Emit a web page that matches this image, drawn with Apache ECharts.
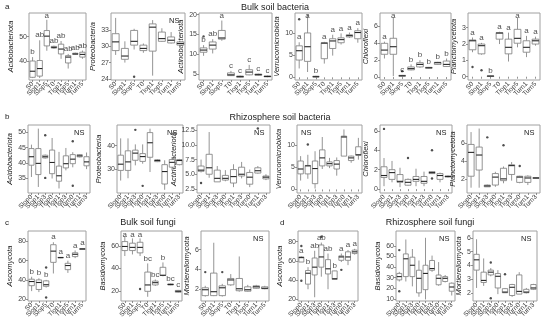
<!DOCTYPE html>
<html><head><meta charset="utf-8">
<script src="https://cdn.jsdelivr.net/npm/echarts@6/dist/echarts.min.js"></script>
<style>html,body{margin:0;padding:0;background:#fff}#c{width:550px;height:325px}</style>
</head><body><div id="c"></div>
<script>
// ---------- categories ----------
const catsBulk = ['S0','Slop1','Slop5','T0','Tlop1','Tlop5','Turn1','Turn5'];
const catsRhizo = ['Slop0','Slop1','Slop3','Tlop0','Tlop1','Tlop3','Turn0','Turn1','Turn3'];

// ---------- a: bulk soil bacteria  [min, Q1, median, Q3, max] ----------
const aAcido = [[33.0,33.3,35.8,40.0,41.6],[33.0,33.8,36.9,40.2,48.5],[44.2,46.2,50.2,52.5,56.9],[45.0,45.3,45.6,46.0,46.3],[40.9,42.9,44.9,46.9,48.2],[36.9,39.2,41.6,42.2,42.9],[42.5,42.7,42.9,43.2,43.4],[40.9,41.6,42.7,43.6,44.3]];
const aAcidoOut = [];
const aAcidoLet = ['b','ab','a','ab','ab','ab','ab','ab'];
const aAcidoTicks = [40,50];

const aProteo = [[28.4,29.2,30.8,32.3,35.2],[27.0,27.6,28.2,29.6,30.9],[29.4,30.2,30.9,32.9,33.2],[28.8,29.2,29.6,30.2,30.5],[24.6,29.1,33.5,34.1,34.8],[30.8,30.9,31.4,32.6,33.3],[30.5,30.6,31.1,31.7,32.6],[30.1,30.2,30.5,30.8,30.9]];
const aProteoOut = [[2,24.4]];
const aProteoTicks = [24,27,30,33];

const aActino = [[9.6,10.5,11.05,11.6,12.3],[10.2,11.3,12.3,13.1,13.8],[13.4,13.8,14.1,16.0,18.5],[4.5,4.6,4.8,5.3,5.8],[4.1,4.2,4.35,4.5,4.6],[4.7,4.8,5.5,6.1,7.3],[4.6,4.7,4.85,5.0,5.1],[4.2,4.3,4.4,4.5,4.6]];
const aActinoOut = [[0,14.5]];
const aActinoLet = ['b','ab','a','c','c','c','c','c'];
const aActinoTicks = [5,10,15,20];

const aVerru = [[2.0,3.9,6.0,7.1,7.9],[1.2,3.6,6.9,10.0,14.2],[0,0.05,0.15,0.25,0.35],[3.1,4.2,7.7,7.8,8.0],[4.9,6.5,8.2,8.7,9.6],[7.4,7.8,8.5,8.9,9.9],[8.9,9.1,9.4,9.6,10.1],[7.8,8.7,10.1,10.5,11.1]];
const aVerruOut = [[0,13.1]];
const aVerruLet = ['a','a','b','a','a','a','a','a'];
const aVerruTicks = [0,5,10];

const aChloro = [[2.2,2.7,3.2,4.0,4.2],[0.1,2.7,3.6,4.6,7.1],[0.05,0.1,0.15,0.2,0.25],[0.8,0.85,1.0,1.2,1.5],[1.1,1.2,1.5,1.7,2.0],[1.0,1.05,1.1,1.15,1.2],[1.45,1.5,1.7,1.75,1.8],[1.2,1.25,1.5,1.9,2.2]];
const aChloroOut = [[2,0.7]];
const aChloroLet = ['a','a','c','b','b','b','b','b'];
const aChloroTicks = [0,2,4,6];

const aPlancto = [[1.5,1.65,2.2,2.25,2.4],[1.35,1.4,1.9,2.0,2.07],[0,0.02,0.04,0.05,0.06],[2.0,2.3,2.67,2.7,2.75],[0.93,1.4,1.8,2.3,2.7],[1.8,2.05,2.35,2.9,3.6],[1.2,1.5,1.8,2.2,2.5],[1.9,2.0,2.2,2.3,2.45]];
const aPlanctoOut = [[0,0.6],[1,0.4]];
const aPlanctoLet = ['a','a','b','a','a','a','a','a'];
const aPlanctoTicks = [0,1,2,3];

// ---------- b: rhizosphere soil bacteria ----------
const bAcido = [[35.3,39.2,42.0,44.7,46.0],[32.0,36.1,39.8,44.7,51.3],[41.4,41.6,42.0,42.5,42.7],[34.8,36.4,40.1,44.2,48.2],[31.5,33.9,35.7,38.9,43.6],[37.5,38.3,39.7,42.3,44.9],[38.5,39.7,41.2,42.7,43.5],[41.8,41.95,42.3,42.7,42.9],[37.9,39.0,40.3,42.0,43.4]];
const bAcidoOut = [[2,49.1],[2,35.0],[6,47.1],[6,32.4]];
const bAcidoTicks = [35,40,45,50];

const bProteo = [[24.9,29.3,32.0,35.9,43.2],[25.9,29.3,33.0,37.8,43.2],[31.5,33.7,36.8,38.1,40.6],[32.2,33.2,35.3,36.6,40.6],[28.6,35.0,41.3,45.7,47.4],[32.9,33.1,33.6,33.9,34.2],[20.9,23.4,28.8,31.8,33.7],[29.3,30.7,32.8,34.0,35.1],[31.5,31.8,33.6,34.0,34.3]];
const bProteoOut = [[2,46.9],[3,22.6]];
const bProteoTicks = [30,40];

const bActino = [[5.3,5.5,5.7,6.4,7.5],[4.4,5.0,6.1,8.4,12.2],[3.7,3.7,4.3,5.7,6.4],[3.8,4.0,4.3,4.8,5.7],[2.8,3.5,4.6,5.8,6.7],[4.3,4.7,5.0,6.2,7.1],[2.8,3.3,4.5,5.3,5.8],[5.1,5.2,5.6,6.1,6.4],[4.0,4.2,4.5,4.7,5.0]];
const bActinoOut = [[0,3.5],[7,12.8]];
const bActinoTicks = [2.5,5,7.5,10,12.5];

const bVerru = [[2.0,3.5,4.6,6.4,7.5],[2.4,3.5,5.3,5.4,7.8],[0.2,1.3,4.7,6.4,8.6],[4.6,5.3,7.1,8.9,11.8],[4.8,5.3,5.8,6.2,7.1],[3.1,4.6,5.7,6.5,7.2],[7.5,7.5,11.8,12.0,13.5],[6.0,6.5,7.1,7.5,7.6],[6.7,7.7,7.8,9.6,11.6]];
const bVerruOut = [[1,10.1]];
const bVerruTicks = [0,5,10];

const bChloro = [[0.3,1.2,1.4,2.3,3.2],[0.7,1.0,1.7,2.0,2.9],[0.2,0.7,0.8,1.5,2.2],[0.35,0.4,0.7,1.0,1.1],[0.3,0.8,1.0,1.3,2.1],[0.3,0.6,0.8,1.3,1.8],[1.55,1.6,1.7,1.8,1.85],[0.7,1.0,1.4,1.6,1.7],[1.2,1.25,1.3,1.35,1.4]];
const bChloroOut = [[0,6.2],[3,3.2],[6,4.0],[6,1.1]];
const bChloroTicks = [0,2,4,6];

const bPlancto = [[1.0,2.3,5.0,5.9,7.3],[1.0,3.0,4.7,5.6,7.7],[1.1,1.1,1.2,1.3,1.35],[1.1,1.3,2.2,2.6,2.8],[1.5,1.8,2.0,3.2,3.4],[1.8,2.5,3.5,3.6,3.9],[1.5,1.6,2.2,2.3,2.35],[1.3,1.6,2.1,2.3,2.4],[2.0,2.05,2.1,2.15,2.2]];
const bPlanctoOut = [[2,6.7],[4,5.8],[6,3.45]];
const bPlanctoTicks = [2,4,6];

// ---------- c: bulk soil fungi ----------
const cAsco = [[28.3,34.0,38.3,40.7,43.3],[27.3,30.0,37.3,40.0,41.7],[32.0,33.3,35.0,39.0,40.0],[46.7,58.3,70.0,76.7,79.3],[62.7,63.0,63.3,63.5,63.7],[47.3,50.7,55.0,57.3,60.0],[62.7,64.3,66.7,68.3,70.7],[71.5,71.7,72.3,72.7,73.0]];
const cAscoOut = [[2,53.0],[2,21.7]];
const cAscoLet = ['b','b','b','a','a','a','a','a'];
const cAscoTicks = [20,40,60,80];

const cBasidio = [[51.0,55.8,59.4,63.7,68.7],[52.4,55.8,58.6,62.3,66.5],[51.0,53.8,58.6,63.1,66.5],[15.2,20.0,25.6,36.9,44.5],[24.8,25.6,27.6,29.0,30.4],[33.2,34.0,34.1,41.1,45.4],[25.4,25.6,26.0,26.5,26.8],[18.8,19.2,20.0,20.8,21.2]];
const cBasidioOut = [[2,22.0]];
const cBasidioLet = ['a','a','a','bc','bc','b','bc','c'];
const cBasidioTicks = [20,40,60];

const cMort = [[1.2,1.3,1.9,2.1,2.3],[1.25,1.3,1.7,3.6,6.7],[1.2,1.3,2.1,2.3,2.5],[2.3,2.4,2.9,3.05,3.5],[1.7,1.8,2.0,3.05,5.3],[1.7,1.75,1.9,2.2,2.4],[2.0,2.05,2.2,2.3,2.4],[1.95,2.0,2.05,2.2,2.3]];
const cMortOut = [[0,3.7],[2,3.7]];
const cMortTicks = [2,4,6];

// ---------- d: rhizosphere soil fungi ----------
const dAsco = [[58.8,58.8,63.4,64.1,64.8],[30.6,35.9,47.2,50.0,53.5],[22.3,45.4,53.5,63.0,70.5],[43.6,53.5,64.1,76.5,79.0],[30.6,46.5,51.8,61.3,67.6],[40.5,40.8,41.5,49.6,49.8],[58.8,60.6,64.1,65.2,67.6],[55.6,60.6,64.1,69.4,71.2],[66.5,67.6,69.4,71.2,72.5]];
const dAscoOut = [[0,75.4],[0,39.4],[3,85.0],[6,50.7]];
const dAscoLet = ['a','b','ab','ab','ab','b','a','a','a'];
const dAscoTicks = [20,40,60,80];

const dBasidio = [[26.4,27.9,31.0,34.0,35.5],[26.4,31.0,47.8,52.4,66.0],[21.8,31.0,41.7,49.3,57.0],[12.0,15.7,29.4,37.0,46.2],[9.5,18.7,34.0,41.7,67.6],[35.5,37.0,38.6,46.2,50.8],[22.4,23.3,29.4,32.5,44.7],[25.5,26.4,29.4,31.0,32.5],[13.2,17.2,21.2,24.8,25.5]];
const dBasidioOut = [[0,56.0],[0,17.2]];
const dBasidioTicks = [10,20,30,40,50,60];

const dMort = [[2.35,3.65,4.4,4.8,5.9],[2.5,2.75,2.9,3.5,4.5],[3.2,3.3,3.5,3.65,3.8],[1.9,2.35,3.2,3.4,3.65],[2.0,2.0,2.05,2.3,2.35],[1.7,1.8,2.4,2.6,2.65],[1.9,1.9,2.1,3.3,3.5],[1.95,2.0,2.05,2.25,2.35],[2.2,2.25,2.35,2.6,2.65]];
const dMortOut = [[2,4.2],[2,1.6],[4,3.35]];
const dMortTicks = [2,3,4,5,6];

// ---------- layout ----------
const FONT = 'Liberation Sans, Arial, sans-serif';
const panels = [
  {l:29,t:13,r:86,b:80, cats:catsBulk, box:aAcido, out:aAcidoOut, let:aAcidoLet, name:'Acidobacteriota', min:32.2, max:59.7, ticks:aAcidoTicks, gap:12},
  {l:111,t:13,r:185,b:80, cats:catsBulk, box:aProteo, out:aProteoOut, name:'Proteobacteria', min:23.8, max:36.1, ticks:aProteoTicks, gap:12, ns:'r'},
  {l:199,t:13,r:272,b:80, cats:catsBulk, box:aActino, out:aActinoOut, let:aActinoLet, name:'Actinobacteriota', min:3.5, max:20.4, ticks:aActinoTicks, gap:12},
  {l:295,t:13,r:362,b:80, cats:catsBulk, box:aVerru, out:aVerruOut, let:aVerruLet, name:'Verrucomicrobiota', min:-0.6, max:14.5, ticks:aVerruTicks, gap:12},
  {l:380,t:13,r:451,b:80, cats:catsBulk, box:aChloro, out:aChloroOut, let:aChloroLet, name:'Chloroflexi', min:-0.35, max:7.6, ticks:aChloroTicks, gap:9},
  {l:468,t:13,r:540,b:80, cats:catsBulk, box:aPlancto, out:aPlanctoOut, let:aPlanctoLet, name:'Planctomycetota', min:-0.2, max:3.9, ticks:aPlanctoTicks, gap:9},

  {l:28,t:125,r:90,b:193, cats:catsRhizo, box:bAcido, out:bAcidoOut, name:'Acidobacteriota', min:30, max:52.5, ticks:bAcidoTicks, gap:12, ns:'r'},
  {l:117,t:125,r:183,b:193, cats:catsRhizo, box:bProteo, out:bProteoOut, name:'Proteobacteria', min:19.5, max:49, ticks:bProteoTicks, gap:12, ns:'r'},
  {l:197,t:125,r:270,b:193, cats:catsRhizo, box:bActino, out:bActinoOut, name:'Actinobacteriota', min:1.8, max:13.4, ticks:bActinoTicks, gap:16, dec:1, ns:'r'},
  {l:297,t:125,r:362,b:193, cats:catsRhizo, box:bVerru, out:bVerruOut, name:'Verrucomicrobiota', min:-0.8, max:14.5, ticks:bVerruTicks, gap:12, ns:'l'},
  {l:380,t:125,r:452,b:193, cats:catsRhizo, box:bChloro, out:bChloroOut, name:'Chloroflexi', min:-0.4, max:6.6, ticks:bChloroTicks, gap:9, ns:'r'},
  {l:467,t:125,r:540,b:193, cats:catsRhizo, box:bPlancto, out:bPlanctoOut, name:'Planctomycetota', min:0.4, max:8.1, ticks:bPlanctoTicks, gap:9, ns:'r'},

  {l:28,t:231,r:86,b:301, cats:catsBulk, box:cAsco, out:cAscoOut, let:cAscoLet, name:'Ascomycota', min:18, max:91, ticks:cAscoTicks, gap:12},
  {l:121,t:231,r:182,b:301, cats:catsBulk, box:cBasidio, out:cBasidioOut, let:cBasidioLet, name:'Basidiomycota', min:11.5, max:73, ticks:cBasidioTicks, gap:12},
  {l:201,t:231,r:269,b:301, cats:catsBulk, box:cMort, out:cMortOut, name:'Mortierellomycota', min:0.75, max:7.9, ticks:cMortTicks, gap:9, ns:'r'},
  {l:298,t:231,r:358,b:301, cats:catsRhizo, box:dAsco, out:dAscoOut, let:dAscoLet, name:'Ascomycota', min:18.4, max:91, ticks:dAscoTicks, gap:12},
  {l:396,t:231,r:455,b:301, cats:catsRhizo, box:dBasidio, out:dBasidioOut, name:'Basidiomycota', min:8, max:74, ticks:dBasidioTicks, gap:12, ns:'r'},
  {l:473,t:231,r:537,b:301, cats:catsRhizo, box:dMort, out:dMortOut, name:'Mortierellomycota', min:1.4, max:6.5, ticks:dMortTicks, gap:9, ns:'r'}
];

function renderBox(params, api) {
  const x = api.value(0);
  const c = v => api.coord([x, v]);
  const bw = api.size([1, 0])[0] * 0.75;
  const pMin = c(api.value(1)), pQ1 = c(api.value(2)), pMed = c(api.value(3)), pQ3 = c(api.value(4)), pMax = c(api.value(5));
  const cx = pMed[0];
  const ls = {stroke:'#7a7a7a', lineWidth:0.8, fill:null};
  return {type:'group', children:[
    {type:'line', shape:{x1:cx, y1:pMax[1], x2:cx, y2:pQ3[1]}, style:ls},
    {type:'line', shape:{x1:cx, y1:pQ1[1], x2:cx, y2:pMin[1]}, style:ls},
    {type:'rect', shape:{x:cx-bw/2, y:pQ3[1], width:bw, height:Math.max(pQ1[1]-pQ3[1],0.5)}, style:{stroke:'#7a7a7a', fill:'#fff', lineWidth:0.8}},
    {type:'line', shape:{x1:cx-bw/2, y1:pMed[1], x2:cx+bw/2, y2:pMed[1]}, style:{stroke:'#262626', lineWidth:1.1}}
  ]};
}

const option = {animation:false, grid:[], xAxis:[], yAxis:[], series:[], graphic:[]};
panels.forEach((p, i) => {
  option.grid.push({left:p.l, top:p.t, width:p.r-p.l, height:p.b-p.t, show:true, borderColor:'#a0a0a0', borderWidth:1, backgroundColor:'#fff'});
  option.xAxis.push({type:'category', gridIndex:i, data:p.cats, boundaryGap:true,
    axisLine:{show:false}, splitLine:{show:false},
    axisTick:{show:true, length:2, alignWithLabel:true, lineStyle:{color:'#777', width:0.8}},
    axisLabel:{interval:0, rotate:45, fontSize:6.5, color:'#333', margin:3, fontFamily:FONT}});
  option.yAxis.push({type:'value', gridIndex:i, min:p.min, max:p.max,
    axisLine:{show:false}, splitLine:{show:false},
    axisTick:{show:true, length:2, customValues:p.ticks, lineStyle:{color:'#777', width:0.8}},
    axisLabel:{customValues:p.ticks, fontSize:7, color:'#444', margin:2, fontFamily:FONT,
      formatter: v => p.dec ? v.toFixed(p.dec) : String(v)},
    name:p.name, nameLocation:'middle', nameGap:p.gap,
    nameTextStyle:{fontStyle:'italic', fontSize:7.5, color:'#222', fontFamily:FONT}});
  option.series.push({type:'custom', xAxisIndex:i, yAxisIndex:i, renderItem:renderBox,
    data:p.box.map((b,k)=>[k].concat(b)), encode:{x:0, y:[1,2,3,4,5]}, clip:false, silent:true});
  if (p.out.length) option.series.push({type:'scatter', xAxisIndex:i, yAxisIndex:i, data:p.out,
    symbolSize:2.4, itemStyle:{color:'#222'}, silent:true});
  if (p.let) {
    const cap = p.max - (p.max-p.min)*0.12;
    option.series.push({type:'scatter', xAxisIndex:i, yAxisIndex:i, symbolSize:0, silent:true,
      data:p.box.map((b,k)=>[k, Math.min(b[4], cap)]),
      label:{show:true, position:'top', distance:1, fontSize:8, color:'#222', fontFamily:FONT,
        formatter: prm => p.let[prm.dataIndex]}});
  }
  if (p.ns) {
    option.graphic.push({type:'text', left: p.ns==='r' ? p.r-16 : p.l+4, top:p.t+4,
      style:{text:'NS', fontSize:7.5, fill:'#222', fontFamily:FONT}});
  }
});

const texts = [
  {x:5, y:3, s:'a'},
  {x:5, y:113, s:'b'},
  {x:5, y:219, s:'c'},
  {x:280, y:219, s:'d'}
];
texts.forEach(t => option.graphic.push({type:'text', left:t.x, top:t.y, style:{text:t.s, fontSize:8, fill:'#222', fontFamily:FONT}}));
const titles = [
  {x:275, y:3, s:'Bulk soil bacteria'},
  {x:280, y:113, s:'Rhizosphere soil bacteria'},
  {x:148, y:218, s:'Bulk soil fungi'},
  {x:430, y:218, s:'Rhizosphere soil fungi'}
];
titles.forEach(t => option.graphic.push({type:'text', x:t.x, y:t.y, style:{text:t.s, fontSize:9, fill:'#222', fontFamily:FONT, align:'center'}}));

const chart = echarts.init(document.getElementById('c'), null, {renderer:'canvas'});
chart.setOption(option);
</script>
</body></html>
